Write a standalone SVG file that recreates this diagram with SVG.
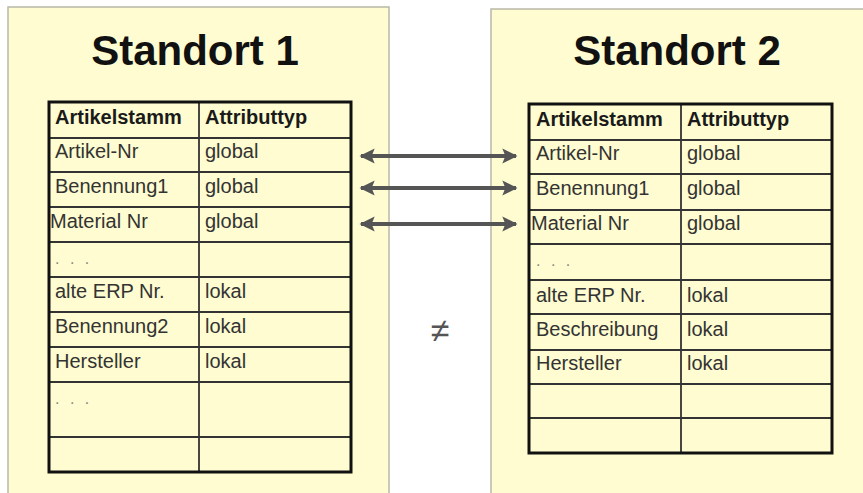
<svg xmlns="http://www.w3.org/2000/svg" width="863" height="493" viewBox="0 0 863 493">
<defs>
<style>
.panel{fill:#fefcd0;stroke:#b8b8a8;stroke-width:1.5}
.title{font-family:"Liberation Sans",Arial,sans-serif;font-weight:bold;font-size:42px;fill:#111;text-anchor:middle}
.outer{fill:none;stroke:#111;stroke-width:3}
.inner{stroke:#333;stroke-width:1.8;fill:none}
.hd{font-family:"Liberation Sans",Arial,sans-serif;font-weight:bold;font-size:20px;fill:#1a1a1a}
.tx{font-family:"Liberation Sans",Arial,sans-serif;font-size:20px;fill:#333}
.dots{font-family:"Liberation Sans",Arial,sans-serif;font-size:16px;fill:#888;letter-spacing:3px}
.conn{stroke:#555;stroke-width:4;fill:none;marker-start:url(#ah);marker-end:url(#ah)}
.ne{font-family:"Liberation Sans",Arial,sans-serif;font-size:34px;fill:#555;text-anchor:middle}
</style>
<marker id="ah" viewBox="0 0 10 10" refX="9" refY="5" markerWidth="3.8" markerHeight="3.8" orient="auto-start-reverse" markerUnits="strokeWidth">
<path d="M0,0 L10,5 L0,10 L2,5 Z" fill="#555"/>
</marker>
</defs>
<rect width="863" height="493" fill="#ffffff"/>

<g id="standort1">
<rect class="panel" x="8" y="7" width="381" height="500"/>
<text class="title" x="195" y="65">Standort 1</text>
<g id="table1">
<line class="inner" x1="199" y1="102" x2="199" y2="472"/>
<line class="inner" x1="49" y1="138" x2="351" y2="138"/>
<line class="inner" x1="49" y1="172" x2="351" y2="172"/>
<line class="inner" x1="49" y1="207" x2="351" y2="207"/>
<line class="inner" x1="49" y1="242" x2="351" y2="242"/>
<line class="inner" x1="49" y1="277" x2="351" y2="277"/>
<line class="inner" x1="49" y1="312" x2="351" y2="312"/>
<line class="inner" x1="49" y1="347" x2="351" y2="347"/>
<line class="inner" x1="49" y1="382" x2="351" y2="382"/>
<line class="inner" x1="49" y1="437" x2="351" y2="437"/>
<rect class="outer" x="49" y="102" width="302" height="370"/>
<text class="hd" x="55" y="124">Artikelstamm</text>
<text class="hd" x="205" y="124">Attributtyp</text>
<text class="tx" x="55" y="158">Artikel-Nr</text>
<text class="tx" x="205" y="158">global</text>
<text class="tx" x="55" y="193">Benennung1</text>
<text class="tx" x="205" y="193">global</text>
<text class="tx" x="50" y="228">Material Nr</text>
<text class="tx" x="205" y="228">global</text>
<text class="dots" x="55" y="264">. . .</text>
<text class="tx" x="55" y="298">alte ERP Nr.</text>
<text class="tx" x="205" y="298">lokal</text>
<text class="tx" x="55" y="333">Benennung2</text>
<text class="tx" x="205" y="333">lokal</text>
<text class="tx" x="55" y="368">Hersteller</text>
<text class="tx" x="205" y="368">lokal</text>
<text class="dots" x="55" y="404">. . .</text>
</g>
</g>

<g id="standort2">
<rect class="panel" x="491" y="9" width="380" height="500"/>
<text class="title" x="677" y="65">Standort 2</text>
<g id="table2">
<line class="inner" x1="681" y1="104" x2="681" y2="453"/>
<line class="inner" x1="529" y1="140" x2="832" y2="140"/>
<line class="inner" x1="529" y1="174" x2="832" y2="174"/>
<line class="inner" x1="529" y1="210" x2="832" y2="210"/>
<line class="inner" x1="529" y1="244" x2="832" y2="244"/>
<line class="inner" x1="529" y1="280" x2="832" y2="280"/>
<line class="inner" x1="529" y1="314" x2="832" y2="314"/>
<line class="inner" x1="529" y1="350" x2="832" y2="350"/>
<line class="inner" x1="529" y1="384" x2="832" y2="384"/>
<line class="inner" x1="529" y1="418" x2="832" y2="418"/>
<rect class="outer" x="529" y="104" width="303" height="349"/>
<text class="hd" x="536" y="126">Artikelstamm</text>
<text class="hd" x="687" y="126">Attributtyp</text>
<text class="tx" x="536" y="160">Artikel-Nr</text>
<text class="tx" x="687" y="160">global</text>
<text class="tx" x="536" y="195">Benennung1</text>
<text class="tx" x="687" y="195">global</text>
<text class="tx" x="531" y="230">Material Nr</text>
<text class="tx" x="687" y="230">global</text>
<text class="dots" x="536" y="266">. . .</text>
<text class="tx" x="536" y="302">alte ERP Nr.</text>
<text class="tx" x="687" y="302">lokal</text>
<text class="tx" x="536" y="336">Beschreibung</text>
<text class="tx" x="687" y="336">lokal</text>
<text class="tx" x="536" y="370">Hersteller</text>
<text class="tx" x="687" y="370">lokal</text>
</g>
</g>

<g id="connectors">
<line class="conn" x1="361" y1="156" x2="516" y2="156"/>
<line class="conn" x1="361" y1="188" x2="516" y2="188"/>
<line class="conn" x1="361" y1="224" x2="516" y2="224"/>
</g>

<g id="ungleich">
<text class="ne" x="440" y="342">≠</text>
</g>
</svg>
